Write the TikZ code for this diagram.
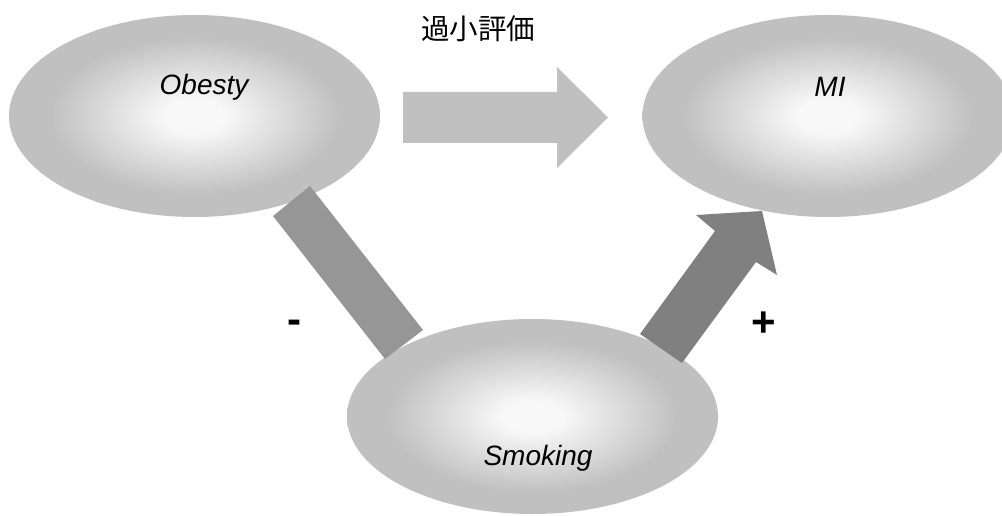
\documentclass[tikz,border=0pt]{standalone}
\usepackage{fontspec}
\setmainfont{Liberation Sans}
\newfontfamily\cjk{Noto Sans CJK JP}
\definecolor{ellin}{HTML}{F8F8F8}
\definecolor{ellout}{HTML}{C0C0C0}
\definecolor{arrlight}{HTML}{C0C0C0}
\definecolor{barmid}{HTML}{969696}
\definecolor{arrdark}{HTML}{808080}
\pgfdeclareradialshading{ellshade}{\pgfpoint{0bp}{0bp}}{%
  color(0bp)=(ellin); color(4bp)=(ellin); color(19.5bp)=(ellout); color(50bp)=(ellout)}
\tikzset{
  ell/.style={ellipse, draw=none, shading=ellshade, inner sep=0pt},
  lbl/.style={font=\fontsize{28}{34}\selectfont\itshape, inner sep=0pt, anchor=base},
  sign/.style={font=\fontsize{42}{48}\selectfont\bfseries, inner sep=0pt}
}
\usetikzlibrary{shapes.geometric}
\begin{document}
\begin{tikzpicture}[x=1pt,y=1pt]
\useasboundingbox (0,0) rectangle (1002,515);
% ellipses
\node[ell, minimum width=371pt, minimum height=202pt] (obesity) at (194.5,399) {};
\node[ell, minimum width=371pt, minimum height=202pt] (mi) at (828,399) {};
\node[ell, minimum width=371pt, minimum height=195pt] (smoking) at (532.5,98.5) {};
% labels
\node[lbl] (tob) at (204,420) {Obesty};
\node[lbl] (tmi) at (830,418) {MI};
\node[lbl] (tsm) at (538,50) {Smoking};
\node[inner sep=0pt, anchor=base, font=\cjk\fontsize{28.5}{34}\selectfont] (under) at (478,475) {過小評価};
% horizontal block arrow
\fill[arrlight] (403,423) -- (557,423) -- (557,448) -- (608,397.5) -- (557,347) -- (557,372) -- (403,372) -- cycle;
% minus bar
\fill[barmid] (273,299) -- (310,329) -- (423,185) -- (385,156) -- cycle;
% plus block arrow
\fill[arrdark] (640,181) -- (715,284) -- (696,300) -- (762,304) -- (777,240) -- (756,253) -- (682,152) -- cycle;
% signs
\node[sign] (minus) at (294,188) {-};
\node[sign] (plus) at (764,191) {+};
\end{tikzpicture}
\end{document}
